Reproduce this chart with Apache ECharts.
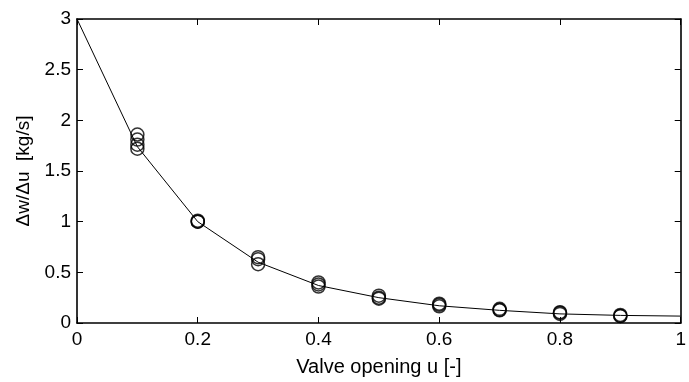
<!DOCTYPE html>
<html>
<head>
<meta charset="utf-8">
<script src="https://cdn.jsdelivr.net/npm/echarts@6/dist/echarts.min.js"></script>
<style>
  html, body { margin: 0; padding: 0; background: #fff; }
  #gainChart { width: 689px; height: 382px; }
</style>
</head>
<body>
<div id="gainChart"></div>
<script>
// model curve (gain vs valve opening)
var lineU = [0, 0.1, 0.2, 0.3, 0.4, 0.5, 0.6, 0.7, 0.8, 0.9, 1.0];
var lineGain = [3.0, 1.74, 1.0, 0.60, 0.37, 0.25, 0.17, 0.125, 0.09, 0.075, 0.068];

// measured points, several per opening
var sampleU = [0.1, 0.2, 0.3, 0.4, 0.5, 0.6, 0.7, 0.8, 0.9];
var sampleGain = [
    [1.86, 1.81, 1.76, 1.72],
    [1.00, 1.00, 1.01],
    [0.65, 0.63, 0.58],
    [0.40, 0.38, 0.36],
    [0.27, 0.25, 0.24],
    [0.19, 0.18, 0.165],
    [0.14, 0.13, 0.125],
    [0.107, 0.10, 0.09],
    [0.08, 0.07, 0.068]
];

var xTicks = [0, 0.2, 0.4, 0.6, 0.8, 1];
var yTicks = [0, 0.5, 1, 1.5, 2, 2.5, 3];

var lineData = [];
for (var i = 0; i < lineU.length; i++) {
    lineData.push([lineU[i], lineGain[i]]);
}
var scatterData = [];
for (var j = 0; j < sampleU.length; j++) {
    for (var k = 0; k < sampleGain[j].length; k++) {
        scatterData.push([sampleU[j], sampleGain[j][k]]);
    }
}

var font = 'Liberation Sans, Arial, sans-serif';
var axisLine = {show: true, onZero: false, lineStyle: {color: '#000', width: 1.6}};
var tick = {show: true, inside: true, length: 6, lineStyle: {color: '#000', width: 1}};

var myChart = echarts.init(document.getElementById('gainChart'));
var option = {
    animation: false,
    grid: {left: 77, right: 3, top: 19, bottom: 55},
    xAxis: [
        {
            type: 'value',
            min: xTicks[0], max: xTicks[xTicks.length - 1], interval: 0.2,
            name: 'Valve opening u [-]',
            nameLocation: 'middle',
            nameGap: 34,
            nameTextStyle: {color: '#000', fontSize: 20, fontFamily: font},
            axisLine: axisLine,
            axisTick: tick,
            splitLine: {show: false},
            axisLabel: {color: '#000', fontSize: 19, fontFamily: font, margin: 7}
        },
        {
            type: 'value', position: 'top',
            min: xTicks[0], max: xTicks[xTicks.length - 1], interval: 0.2,
            axisLine: axisLine,
            axisTick: tick,
            splitLine: {show: false},
            axisLabel: {show: false}
        }
    ],
    yAxis: [
        {
            type: 'value',
            min: yTicks[0], max: yTicks[yTicks.length - 1], interval: 0.5,
            name: 'Δw/Δu  [kg/s]',
            nameLocation: 'middle',
            nameGap: 44,
            nameTextStyle: {color: '#000', fontSize: 19, fontFamily: font},
            axisLine: axisLine,
            axisTick: tick,
            splitLine: {show: false},
            axisLabel: {color: '#000', fontSize: 19, fontFamily: font, margin: 6}
        },
        {
            type: 'value', position: 'right',
            min: yTicks[0], max: yTicks[yTicks.length - 1], interval: 0.5,
            axisLine: axisLine,
            axisTick: tick,
            splitLine: {show: false},
            axisLabel: {show: false}
        }
    ],
    series: [
        {
            type: 'line',
            data: lineData,
            showSymbol: false,
            lineStyle: {color: '#000', width: 1}
        },
        {
            type: 'scatter',
            data: scatterData,
            symbol: 'circle',
            symbolSize: 13,
            itemStyle: {color: 'transparent', borderColor: '#000', borderWidth: 1.5}
        }
    ]
};
myChart.setOption(option);
</script>
</body>
</html>
